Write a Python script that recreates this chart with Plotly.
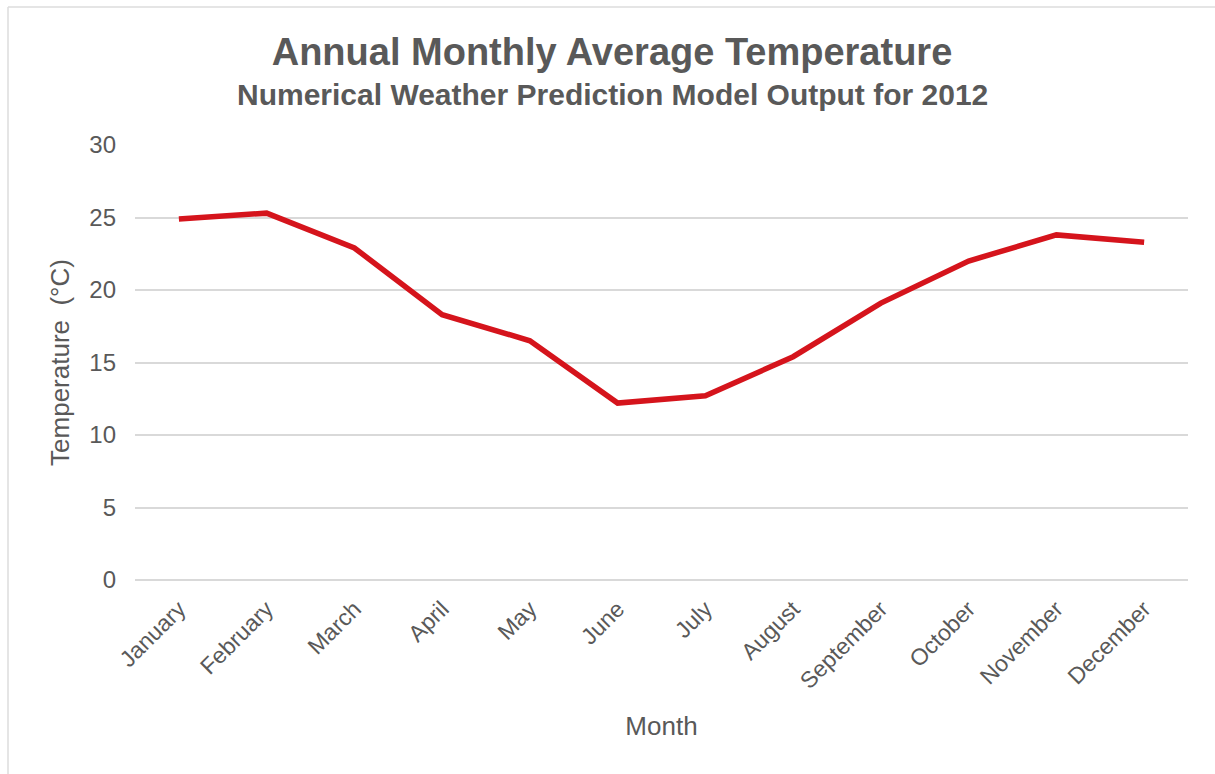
import plotly.graph_objects as go

months = ["January", "February", "March", "April", "May", "June", "July",
          "August", "September", "October", "November", "December"]
temps = [24.9, 25.3, 22.9, 18.3, 16.5, 12.2, 12.7, 15.4, 19.1, 22.0, 23.8, 23.3]
y_ticks = [0, 5, 10, 15, 20, 25, 30]

title_text = "Annual Monthly Average Temperature"
subtitle_text = "Numerical Weather Prediction Model Output for 2012"
x_title = "Month"
y_title = "Temperature  (°C)"

GRAY = "#595959"
FONT = "Liberation Sans, Arial, sans-serif"

W, H = 1215, 774
L, R, T, B = 135, 27, 145, 194
PW, PH = W - L - R, H - T - B

fig = go.Figure()
fig.add_trace(go.Scatter(
    x=months, y=temps, mode="lines",
    line=dict(color="#d5141c", width=5.5),
    hoverinfo="x+y",
))

fig.update_layout(
    width=W, height=H,
    margin=dict(l=L, r=R, t=T, b=B),
    paper_bgcolor="white", plot_bgcolor="white",
    showlegend=False,
    font=dict(family=FONT, color=GRAY),
    title=dict(
        text="<b>" + title_text + "</b>",
        x=(612 / W), xanchor="center", xref="container",
        y=1 - 52 / H, yanchor="middle", yref="container",
        font=dict(size=38, color=GRAY, family=FONT),
    ),
    annotations=[dict(
        text="<b>" + subtitle_text + "</b>",
        xref="paper", yref="paper",
        x=(612 - L) / PW, y=(H - B - 95) / PH,
        xanchor="center", yanchor="middle", showarrow=False,
        font=dict(size=30, color=GRAY, family=FONT),
    )],
    xaxis=dict(
        type="category", range=[-0.5, 11.5],
        tickangle=-45, tickfont=dict(size=23, color=GRAY),
        ticklabelstandoff=10,
        showgrid=False, showline=False, ticks="",
        title=dict(text=x_title, font=dict(size=26, color=GRAY), standoff=24),
    ),
    yaxis=dict(
        range=[0, 30], tickvals=y_ticks,
        tickfont=dict(size=24, color=GRAY),
        ticklabelstandoff=18,
        showgrid=True, gridcolor="#d9d9d9", gridwidth=1.5,
        zeroline=True, zerolinecolor="#d9d9d9", zerolinewidth=1.5,
        ticks="",
        title=dict(text=y_title, font=dict(size=26, color=GRAY), standoff=12),
    ),
    shapes=[
        dict(type="line", xref="paper", yref="paper",
             x0=(8 - L) / PW, x1=(W - L) / PW,
             y0=(H - B - 7) / PH, y1=(H - B - 7) / PH,
             line=dict(color="#dcdcdc", width=1.5), layer="below"),
        dict(type="line", xref="paper", yref="paper",
             x0=(8 - L) / PW, x1=(8 - L) / PW,
             y0=(H - B - 7) / PH, y1=(H - B - H) / PH,
             line=dict(color="#dcdcdc", width=1.5), layer="below"),
    ],
)

fig.write_html("out.html")
